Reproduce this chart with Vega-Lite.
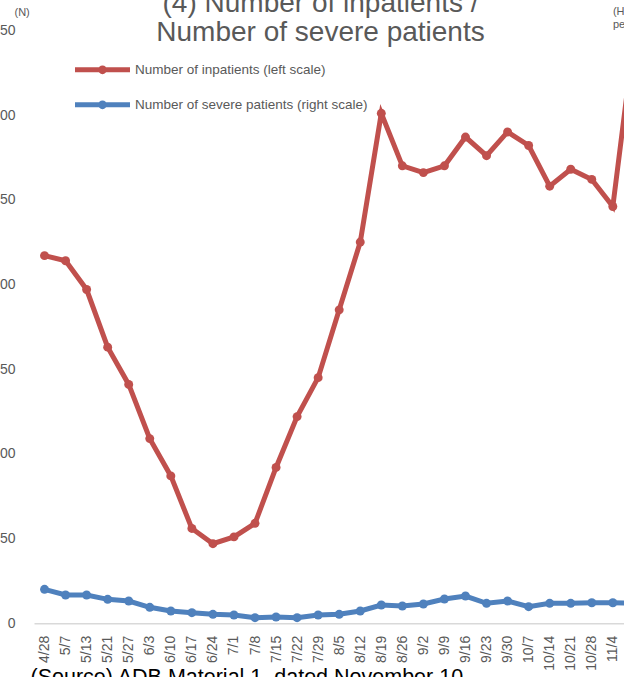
{
  "$schema": "https://vega.github.io/schema/vega-lite/v6.json",
  "width": 610.4,
  "height": 593,
  "autosize": {"type": "none"},
  "padding": {"left": 34, "top": 30.3, "right": -20.4, "bottom": 53.7},
  "background": "white",
  "config": {"view": {"stroke": null}, "font": "Liberation Sans"},
  "title": {
    "text": ["(4) Number of inpatients /", "Number of severe patients"],
    "fontSize": 28,
    "fontWeight": "normal",
    "color": "#595959",
    "lineHeight": 29,
    "anchor": "middle",
    "frame": "group",
    "dx": -18.7,
    "dy": 42,
    "offset": 0
  },
  "data": {
    "values": [
      {"date": "4/28", "inpatients": 217, "severe": 4.01},
      {"date": "5/7", "inpatients": 214, "severe": 3.34},
      {"date": "5/13", "inpatients": 197, "severe": 3.34},
      {"date": "5/21", "inpatients": 163, "severe": 2.83},
      {"date": "5/27", "inpatients": 141, "severe": 2.63},
      {"date": "6/3", "inpatients": 109, "severe": 1.89},
      {"date": "6/10", "inpatients": 87, "severe": 1.45},
      {"date": "6/17", "inpatients": 56, "severe": 1.25},
      {"date": "6/24", "inpatients": 47, "severe": 1.06},
      {"date": "7/1", "inpatients": 51, "severe": 0.98},
      {"date": "7/8", "inpatients": 59, "severe": 0.66},
      {"date": "7/15", "inpatients": 92, "severe": 0.74},
      {"date": "7/22", "inpatients": 122, "severe": 0.66},
      {"date": "7/29", "inpatients": 145, "severe": 0.98},
      {"date": "8/5", "inpatients": 185, "severe": 1.06},
      {"date": "8/12", "inpatients": 225, "severe": 1.45},
      {"date": "8/19", "inpatients": 301, "severe": 2.16},
      {"date": "8/26", "inpatients": 270, "severe": 2.04},
      {"date": "9/2", "inpatients": 266, "severe": 2.28},
      {"date": "9/9", "inpatients": 270, "severe": 2.87},
      {"date": "9/16", "inpatients": 287, "severe": 3.22},
      {"date": "9/23", "inpatients": 276, "severe": 2.36},
      {"date": "9/30", "inpatients": 290, "severe": 2.63},
      {"date": "10/7", "inpatients": 282, "severe": 1.96},
      {"date": "10/14", "inpatients": 258, "severe": 2.36},
      {"date": "10/21", "inpatients": 268, "severe": 2.36},
      {"date": "10/28", "inpatients": 262, "severe": 2.43},
      {"date": "11/4", "inpatients": 246, "severe": 2.43},
      {"date": "11/11", "inpatients": 345, "severe": 2.36}
    ]
  },
  "encoding": {
    "x": {
      "field": "date",
      "type": "ordinal",
      "sort": null,
      "axis": {
        "title": "(Source) ADB Material 1, dated November 10",
        "titleFontSize": 21.5,
        "titleFontWeight": "normal",
        "titleColor": "#000000",
        "titleAnchor": "start",
        "titleAlign": "left",
        "titleBaseline": "top",
        "titleX": -4,
        "titleY": 43,
        "labelAngle": -90,
        "labelAlign": "right",
        "labelBaseline": "middle",
        "labelFontSize": 14,
        "labelColor": "#595959",
        "labelPadding": 12,
        "labelOverlap": false,
        "ticks": false,
        "grid": false,
        "domainColor": "#d9d9d9",
        "domainWidth": 1.5
      }
    }
  },
  "layer": [
    {
      "encoding": {
        "y": {
          "field": "inpatients",
          "type": "quantitative",
          "scale": {"domain": [0, 350], "nice": false},
          "axis": {
            "title": "(N)",
            "titleAngle": 0,
            "titleX": -20,
            "titleY": -15,
            "titleAlign": "left",
            "titleBaseline": "alphabetic",
            "titleFontSize": 11,
            "titleFontWeight": "normal",
            "titleColor": "#595959",
            "values": [0, 50, 100, 150, 200, 250, 300, 350],
            "labelFontSize": 14,
            "labelColor": "#595959",
            "labelPadding": 19,
            "ticks": false,
            "domain": false,
            "grid": false
          }
        }
      },
      "layer": [
        {"mark": {"type": "line", "color": "#C0504D", "strokeWidth": 5}},
        {
          "mark": {"type": "point", "filled": true, "opacity": 1, "size": 80},
          "encoding": {
            "color": {
              "datum": "Number of inpatients (left scale)",
              "type": "nominal",
              "scale": {
                "domain": ["Number of inpatients (left scale)", "Number of severe patients (right scale)"],
                "range": ["#C0504D", "#4F81BD"]
              },
              "legend": {
                "orient": "none",
                "legendX": 41,
                "legendY": 12,
                "title": null,
                "padding": 0,
                "symbolType": "M-1,-0.09 L1,-0.09 L1,0.09 L-1,0.09 Z M-0.16,0 A0.16,0.16 0 1,1 0.16,0 A0.16,0.16 0 1,1 -0.16,0 Z",
                "symbolSize": 3025,
                "symbolStrokeWidth": 0,
                "labelFontSize": 13.5,
                "labelColor": "#595959",
                "labelOffset": 5,
                "labelLimit": 0,
                "rowPadding": 1,
                "encode": {
                  "symbols": {
                    "update": {
                      "fill": {"scale": "color", "field": "value"},
                      "stroke": {"value": "transparent"},
                      "strokeWidth": {"value": 0},
                      "opacity": {"value": 1}
                    }
                  }
                }
              }
            }
          }
        }
      ]
    },
    {
      "encoding": {
        "y": {
          "field": "severe",
          "type": "quantitative",
          "scale": {"domain": [0, 70], "nice": false},
          "axis": {
            "orient": "right",
            "title": ["(Hundred", "persons)"],
            "titleAngle": 0,
            "titleX": -32,
            "titleY": -16,
            "titleAlign": "left",
            "titleBaseline": "alphabetic",
            "titleLineHeight": 13,
            "titleFontSize": 11,
            "titleFontWeight": "normal",
            "titleColor": "#595959",
            "labelFontSize": 14,
            "labelColor": "#595959",
            "ticks": false,
            "domain": false,
            "grid": false
          }
        }
      },
      "layer": [
        {"mark": {"type": "line", "color": "#4F81BD", "strokeWidth": 5}},
        {
          "mark": {"type": "point", "filled": true, "opacity": 1, "size": 80},
          "encoding": {
            "color": {"datum": "Number of severe patients (right scale)", "type": "nominal"}
          }
        }
      ]
    }
  ],
  "resolve": {"scale": {"y": "independent"}}
}
